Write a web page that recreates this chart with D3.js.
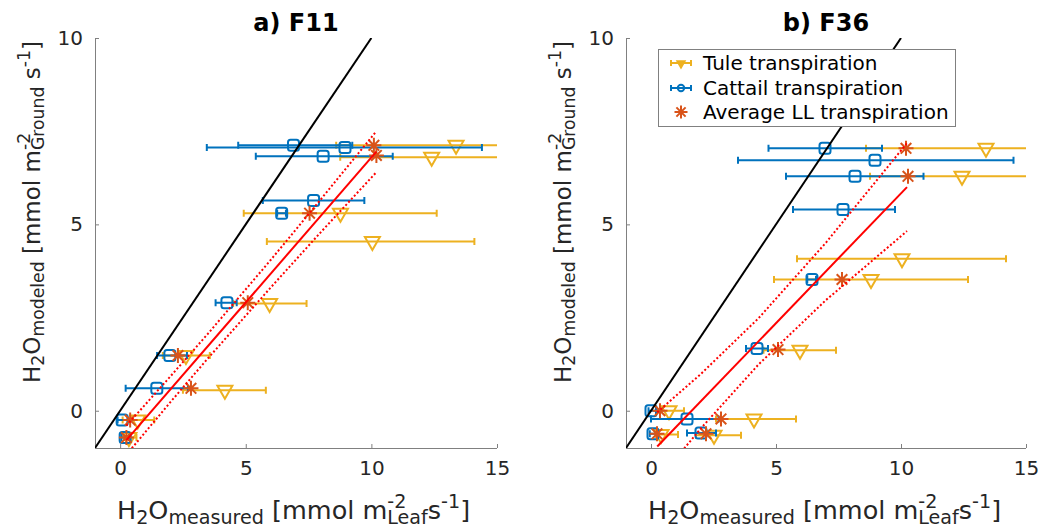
<!DOCTYPE html>
<html>
<head>
<meta charset="utf-8">
<script src="https://cdn.jsdelivr.net/npm/d3@7"></script>
<style>
  body { margin: 0; background: #fff; }
  svg { display: block; }
  text { font-family: "DejaVu Sans", sans-serif; white-space: pre; }
</style>
</head>
<body>
<svg id="chart" width="1043" height="530"></svg>
<script>
// ---------------- data ----------------
const xTicks = [0, 5, 10, 15];
const yTicks = [0, 5, 10];
const panelTitles = ["a) F11", "b) F36"];
const legendLabels = ["Tule transpiration", "Cattail transpiration", "Average LL transpiration"];

// [measured, modeled, measured low, measured high]
const f11Tule = [
  [13.37, 7.12, 8.6, 18], [12.4, 6.8, 8.76, 18], [8.77, 5.3, 4.92, 12.6],
  [10.04, 4.54, 5.84, 14.1], [5.95, 2.88, 4.5, 7.42], [2.62, 1.48, 1.7, 3.57],
  [4.17, 0.55, 2.5, 5.8], [0.7, -0.25, 0.1, 1.36], [0.35, -0.72, 0.15, 0.65]
];
const f11Cattail = [
  [6.9, 7.12, 4.7, 9.24], [8.95, 7.06, 3.45, 14.4], [8.08, 6.83, 5.4, 10.85],
  [7.7, 5.64, 5.68, 9.72], [6.43, 5.3, 6.25, 6.6], [4.25, 2.9, 3.8, 4.64],
  [1.98, 1.48, 1.47, 2.66], [1.46, 0.6, 0.22, 2.7], [0.08, -0.25, -0.1, 0.3],
  [0.2, -0.72, 0.05, 0.35]
];
const f11Average = [
  [10.1, 7.12], [10.2, 6.85], [7.54, 5.3], [5.08, 2.9], [2.3, 1.48],
  [2.82, 0.6], [0.4, -0.25], [0.25, -0.72]
];
const f11Fit = [[0.25, -0.79], [10.2, 6.95]];
const f11Upper = [[0.25, -0.40], [2, 0.92], [3.5, 2.07], [6, 4.05], [8, 5.68], [10.2, 7.5]];
const f11Lower = [[0.25, -1.18], [2, 0.23], [3.5, 1.41], [6, 3.31], [8, 4.8], [10.2, 6.4]];

const f36Tule = [
  [13.4, 7.04, 8.6, 18], [12.44, 6.29, 8.76, 18], [10.04, 4.08, 5.84, 14.2],
  [8.8, 3.52, 4.92, 12.68], [5.96, 1.62, 4.5, 7.4], [0.72, 0.0, 0.2, 1.32],
  [4.12, -0.22, 2.6, 5.8], [0.4, -0.64, 0.2, 1.08], [2.52, -0.66, 1.8, 3.6]
];
const f36Cattail = [
  [6.96, 7.04, 4.7, 9.24], [8.96, 6.72, 3.48, 14.5], [8.16, 6.29, 5.4, 10.9],
  [7.68, 5.4, 5.68, 9.76], [6.44, 3.52, 6.25, 6.6], [4.24, 1.67, 3.8, 4.68],
  [0.0, 0.0, -0.1, 0.2], [1.44, -0.22, 0.0, 2.7], [0.08, -0.62, -0.05, 0.25],
  [2.0, -0.6, 1.44, 2.6]
];
const f36Average = [
  [10.2, 7.04], [10.28, 6.29], [7.64, 3.52], [5.08, 1.64], [0.36, 0.0],
  [2.8, -0.22], [0.24, -0.62], [2.2, -0.62]
];
const f36Fit = [[0.25, -0.96], [10.24, 6.0]];
const f36Upper = [[0.25, -0.04], [2, 0.99], [4.3, 2.48], [7, 4.51], [10.24, 7.18]];
const f36Lower = [[0.25, -1.88], [2, -0.47], [4.3, 1.24], [7, 2.97], [10.24, 4.82]];

const oneToOne = [[-1, -1], [10, 10]];

// ---------------- style ----------------
const C = { tule: "#EDB120", cattail: "#0072BD", avg: "#D95319", fit: "#FF0000", axis: "#808080", text: "#262626" };

const svg = d3.select("#chart");

const panels = [
  { left: 95, right: 497, title: panelTitles[0], tule: f11Tule, cattail: f11Cattail, avg: f11Average, fit: f11Fit, up: f11Upper, lo: f11Lower, legend: false },
  { left: 626, right: 1026, title: panelTitles[1], tule: f36Tule, cattail: f36Cattail, avg: f36Average, fit: f36Fit, up: f36Upper, lo: f36Lower, legend: true }
];
const plotTop = 38, plotBottom = 448;

function starPath(r) {
  const d = r * 0.7071;
  return `M${-r},0L${r},0M0,${-r}L0,${r}M${-d},${-d}L${d},${d}M${-d},${d}L${d},${-d}`;
}
function triPath(hw, t, b) { return `M${-hw},${-t}L${hw},${-t}L0,${b}Z`; }

// rich text with sub/superscripts, drawn piece by piece
function rich(g, pieces, size) {
  let cur = 0, stackStart = null, stackW = 0;
  pieces.forEach(p => {
    const fs = p.s ? size * 0.75 : size;
    const dy = p.s === "sub" ? size * 0.18 : (p.s === "sup" ? -size * 0.42 : 0);
    let x = cur;
    if (stackStart !== null) x = stackStart;
    const t = g.append("text").attr("x", x).attr("y", dy)
      .attr("font-size", fs).attr("fill", C.text).text(p.t);
    const w = t.node().getComputedTextLength();
    if (p.stack) { stackStart = x; stackW = w; cur = x + w; }
    else if (stackStart !== null) { cur = stackStart + Math.max(stackW, w); stackStart = null; }
    else cur = x + w;
  });
  return cur;
}

const xLabel = [{ t: "H" }, { t: "2", s: "sub" }, { t: "O" }, { t: "measured", s: "sub" }, { t: " [mmol m" },
  { t: "-2", s: "sup", stack: true }, { t: "Leaf", s: "sub" }, { t: "s" }, { t: "-1", s: "sup" }, { t: "]" }];
const yLabel = [{ t: "H" }, { t: "2", s: "sub" }, { t: "O" }, { t: "modeled", s: "sub" }, { t: " [mmol m" },
  { t: "-2", s: "sup", stack: true }, { t: "Ground", s: "sub" }, { t: " s" }, { t: "-1", s: "sup" }, { t: "]" }];

panels.forEach((P, i) => {
  const x = d3.scaleLinear().domain([-1, 15]).range([P.left, P.right]);
  const y = d3.scaleLinear().domain([-1, 10]).range([plotBottom, plotTop]);
  const g = svg.append("g");

  const clipId = "clip" + i;
  svg.append("clipPath").attr("id", clipId).append("rect")
    .attr("x", P.left).attr("y", plotTop).attr("width", P.right - P.left).attr("height", plotBottom - plotTop);

  // axes
  const xa = g.append("g").attr("transform", `translate(0,${plotBottom})`)
    .call(d3.axisBottom(x).tickValues(xTicks).tickSize(-4).tickPadding(13).tickSizeOuter(0));
  const ya = g.append("g").attr("transform", `translate(${P.left},0)`)
    .call(d3.axisLeft(y).tickValues(yTicks).tickSize(-4).tickPadding(12).tickSizeOuter(0));
  [xa, ya].forEach(a => {
    a.select(".domain").attr("stroke", C.axis).attr("stroke-width", 1);
    a.selectAll(".tick line").attr("stroke", C.axis);
    a.selectAll(".tick text").attr("font-size", 20).attr("fill", C.text).attr("font-family", "DejaVu Sans");
  });
  xa.select(".domain").attr("d", `M${P.left},0.5H${P.right}`);
  ya.select(".domain").attr("d", `M0.5,${plotTop}V${plotBottom}`);

  // title
  g.append("text").attr("x", (P.left + P.right) / 2).attr("y", 31).attr("text-anchor", "middle")
    .attr("font-size", 24).attr("font-weight", "bold").attr("fill", "#000").text(P.title);

  // labels
  const xl = g.append("g").attr("transform", `translate(${P.left + 22},519)`);
  rich(xl, xLabel, 25.5);
  const yl = g.append("g").attr("transform", `translate(${P.left - 55},383) rotate(-90)`);
  rich(yl, yLabel, 23);

  const plot = g.append("g").attr("clip-path", `url(#${clipId})`);

  function errbars(data, color) {
    const eg = plot.append("g").attr("stroke", color).attr("stroke-width", 2).attr("fill", "none");
    data.forEach(d => {
      const yy = y(d[1]);
      eg.append("path").attr("d",
        `M${x(d[2])},${yy}H${x(d[3])}M${x(d[2])},${yy - 3.5}V${yy + 3.5}M${x(d[3])},${yy - 3.5}V${yy + 3.5}`);
    });
    return eg;
  }
  // tule
  errbars(P.tule, C.tule);
  plot.append("g").selectAll("path").data(P.tule).join("path")
    .attr("transform", d => `translate(${x(d[0])},${y(d[1])})`)
    .attr("d", triPath(7.5, 4.5, 8.5)).attr("fill", "none").attr("stroke", C.tule).attr("stroke-width", 2);
  // cattail
  errbars(P.cattail, C.cattail);
  plot.append("g").selectAll("rect").data(P.cattail).join("rect")
    .attr("x", d => x(d[0]) - 5.5).attr("y", d => y(d[1]) - 5.5).attr("width", 11).attr("height", 11)
    .attr("rx", 2.5).attr("fill", "none").attr("stroke", C.cattail).attr("stroke-width", 2);
  // average
  plot.append("g").selectAll("path").data(P.avg).join("path")
    .attr("transform", d => `translate(${x(d[0])},${y(d[1])})`)
    .attr("d", starPath(7.5)).attr("fill", "none").attr("stroke", C.avg).attr("stroke-width", 2);

  const line = d3.line().x(d => x(d[0])).y(d => y(d[1]));
  plot.append("path").attr("d", line(oneToOne)).attr("stroke", "#000").attr("stroke-width", 2).attr("fill", "none");
  plot.append("path").attr("d", line(P.fit)).attr("stroke", C.fit).attr("stroke-width", 2).attr("fill", "none");
  [P.up, P.lo].forEach(b => plot.append("path").attr("d", line(b)).attr("stroke", C.fit)
    .attr("stroke-width", 2).attr("stroke-dasharray", "2,2.2").attr("fill", "none"));

  if (P.legend) {
    const lg = g.append("g");
    lg.append("rect").attr("x", 658.5).attr("y", 49.5).attr("width", 297).attr("height", 77)
      .attr("fill", "#fff").attr("stroke", C.axis).attr("stroke-width", 1);
    const rows = [63, 88, 112];
    const colors = [C.tule, C.cattail, C.avg];
    legendLabels.forEach((lab, k) => {
      const yy = rows[k], cx = 681;
      if (k < 2) {
        lg.append("path").attr("d", `M671,${yy}H691M671,${yy - 3}V${yy + 3}M691,${yy - 3}V${yy + 3}`)
          .attr("stroke", colors[k]).attr("stroke-width", 2).attr("fill", "none");
        if (k === 0) lg.append("path").attr("transform", `translate(${cx},${yy})`).attr("d", triPath(4, 2, 5))
          .attr("fill", colors[k]).attr("stroke", colors[k]).attr("stroke-width", 1.5);
        else lg.append("circle").attr("cx", cx).attr("cy", yy).attr("r", 3.2).attr("fill", "none")
          .attr("stroke", colors[k]).attr("stroke-width", 2);
      } else {
        lg.append("path").attr("transform", `translate(${cx},${yy})`).attr("d", starPath(6.5))
          .attr("stroke", colors[k]).attr("stroke-width", 2).attr("fill", "none");
      }
      lg.append("text").attr("x", 703).attr("y", yy).attr("dy", "0.35em").attr("font-size", 20)
        .attr("fill", "#000").text(lab);
    });
  }
});
</script>
</body>
</html>
